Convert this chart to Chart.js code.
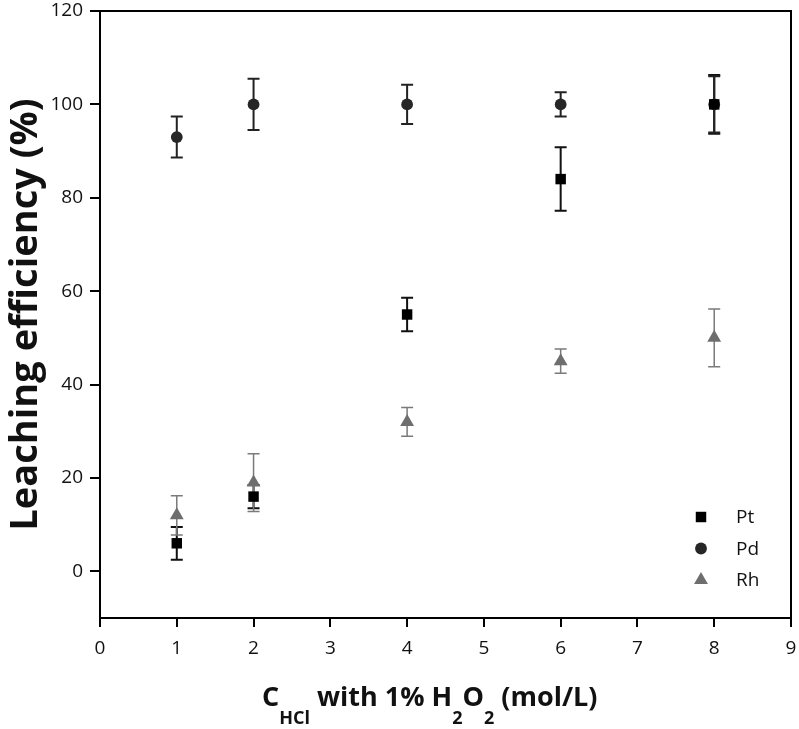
<!DOCTYPE html>
<html>
<head>
<meta charset="utf-8">
<script src="https://cdn.jsdelivr.net/npm/chart.js@4.4.0/dist/chart.umd.min.js"></script>
<style>
  html, body { margin: 0; padding: 0; background: #fff; }
  #wrap { width: 799px; height: 729px; }
</style>
</head>
<body>
<div id="wrap"><canvas id="grafico"></canvas></div>
<script>
// dados
const concentracoes = [1, 2, 4, 6, 8];
const ptValores = [6, 16, 55, 84, 100];
const ptErros = [3.5, 2.5, 3.6, 6.8, 6.3];
const pdValores = [93, 100, 100, 100, 100];
const pdErros = [4.4, 5.5, 4.2, 2.6, 6.0];
const rhValores = [12, 19, 32, 45, 50];
const rhErros = [4.2, 6.2, 3.1, 2.6, 6.2];
const seriesNomes = ['Pt', 'Pd', 'Rh'];
const xTicks = [0, 1, 2, 3, 4, 5, 6, 7, 8, 9];
const yTicks = [0, 20, 40, 60, 80, 100, 120];

const fonte = '"Open Sans", "DejaVu Sans", sans-serif';

const pontos = (valores) => concentracoes.map((x, i) => ({ x: x, y: valores[i] }));

const datasets = [
    { label: seriesNomes[0], data: pontos(ptValores), erros: ptErros, pointStyle: 'rect', pointRadius: 7.4,
      backgroundColor: '#000', borderColor: '#000', corErro: '#111', larguraErro: 2 },
    { label: seriesNomes[1], data: pontos(pdValores), erros: pdErros, pointStyle: 'circle', pointRadius: 5.9,
      backgroundColor: '#262626', borderColor: '#262626', corErro: '#222', larguraErro: 2 },
    { label: seriesNomes[2], data: pontos(rhValores), erros: rhErros, pointStyle: 'triangle', pointRadius: 8,
      backgroundColor: '#6e6e6e', borderColor: '#6e6e6e', corErro: '#7a7a7a', larguraErro: 1.5 }
];
datasets.forEach(d => { d.borderWidth = 0; d.pointHoverRadius = d.pointRadius; d.showLine = false; });

// barras de erro desenhadas antes dos marcadores
const barrasErro = {
    id: 'barrasErro',
    beforeDatasetsDraw: (chart) => {
        const ctx = chart.ctx;
        const sx = chart.scales.x, sy = chart.scales.y;
        chart.data.datasets.forEach(ds => {
            ctx.save();
            ctx.strokeStyle = ds.corErro;
            ctx.lineWidth = ds.larguraErro;
            ds.data.forEach((p, i) => {
                const px = sx.getPixelForValue(p.x);
                const top = sy.getPixelForValue(p.y + ds.erros[i]);
                const bot = sy.getPixelForValue(p.y - ds.erros[i]);
                ctx.beginPath();
                ctx.moveTo(px, top); ctx.lineTo(px, bot);
                ctx.moveTo(px - 6, top); ctx.lineTo(px + 6, top);
                ctx.moveTo(px - 6, bot); ctx.lineTo(px + 6, bot);
                ctx.stroke();
            });
            ctx.restore();
        });
    }
};

// moldura, legenda e titulos dos eixos
const extras = {
    id: 'extras',
    afterDraw: (chart) => {
        const ctx = chart.ctx;
        const a = chart.chartArea;
        ctx.save();
        ctx.strokeStyle = '#000';
        ctx.lineWidth = 2;
        ctx.beginPath();
        ctx.moveTo(a.left, a.top); ctx.lineTo(a.right, a.top); ctx.lineTo(a.right, a.bottom);
        ctx.stroke();

        // legenda
        chart.data.datasets.forEach((ds, i) => {
            const y = a.bottom - 101 + i * 31.5;
            ctx.fillStyle = ds.backgroundColor;
            ctx.strokeStyle = ds.backgroundColor;
            Chart.helpers.drawPoint(ctx, { pointStyle: ds.pointStyle, radius: ds.pointRadius, rotation: 0, borderWidth: 0 }, a.right - 90, y);
            ctx.fillStyle = '#111';
            ctx.font = '19px ' + fonte;
            ctx.textBaseline = 'middle';
            ctx.textAlign = 'left';
            ctx.fillText(ds.label, a.right - 55, y + 1);
        });

        // titulo eixo y
        ctx.save();
        ctx.translate(37, (a.top + a.bottom) / 2);
        ctx.rotate(-Math.PI / 2);
        ctx.font = 'bold 38px ' + fonte;
        ctx.fillStyle = '#111';
        ctx.textAlign = 'center';
        ctx.textBaseline = 'alphabetic';
        ctx.fillText('Leaching efficiency (%)', 0, 0);
        ctx.restore();

        // titulo eixo x com subscritos
        const partes = [
            { t: 'C', sub: false }, { t: 'HCl', sub: true }, { t: ' with 1% H', sub: false },
            { t: '2', sub: true }, { t: 'O', sub: false }, { t: '2', sub: true }, { t: ' (mol/L)', sub: false }
        ];
        const fMain = 'bold 27px ' + fonte, fSub = 'bold 18px ' + fonte;
        let x = 262;
        ctx.fillStyle = '#111';
        ctx.textAlign = 'left';
        ctx.textBaseline = 'alphabetic';
        partes.forEach(p => {
            ctx.font = p.sub ? fSub : fMain;
            ctx.fillText(p.t, x, p.sub ? 724 : 706);
            x += ctx.measureText(p.t).width;
        });
        ctx.restore();
    }
};

const config = {
    type: 'scatter',
    data: { datasets: datasets },
    options: {
        responsive: true,
        maintainAspectRatio: false,
        animation: false,
        layout: { padding: { left: 0, right: 6, top: 11, bottom: 0 } },
        plugins: { legend: { display: false }, tooltip: { enabled: false } },
        scales: {
            x: {
                type: 'linear', min: 0, max: 9,
                afterBuildTicks: (axis) => { axis.ticks = xTicks.map(v => ({ value: v })); },
                afterFit: (axis) => { axis.height = 111; axis.paddingLeft = 0; axis.paddingRight = 0; },
                grid: { drawOnChartArea: false, drawTicks: true, tickLength: 9, color: '#000', lineWidth: 2 },
                border: { display: true, color: '#000', width: 2 },
                ticks: { color: '#111', padding: 10, font: { family: fonte, size: 19 } }
            },
            y: {
                type: 'linear', min: -10, max: 120,
                afterBuildTicks: (axis) => { axis.ticks = yTicks.map(v => ({ value: v })); },
                afterFit: (axis) => { axis.width = 100; axis.paddingTop = 0; axis.paddingBottom = 0; },
                grid: { drawOnChartArea: false, drawTicks: true, tickLength: 10, color: '#000', lineWidth: 2 },
                border: { display: true, color: '#000', width: 2 },
                ticks: { color: '#111', padding: 7, font: { family: fonte, size: 19 } }
            }
        }
    },
    plugins: [barrasErro, extras]
};

const grafico = new Chart(document.getElementById('grafico'), config);
</script>
</body>
</html>
